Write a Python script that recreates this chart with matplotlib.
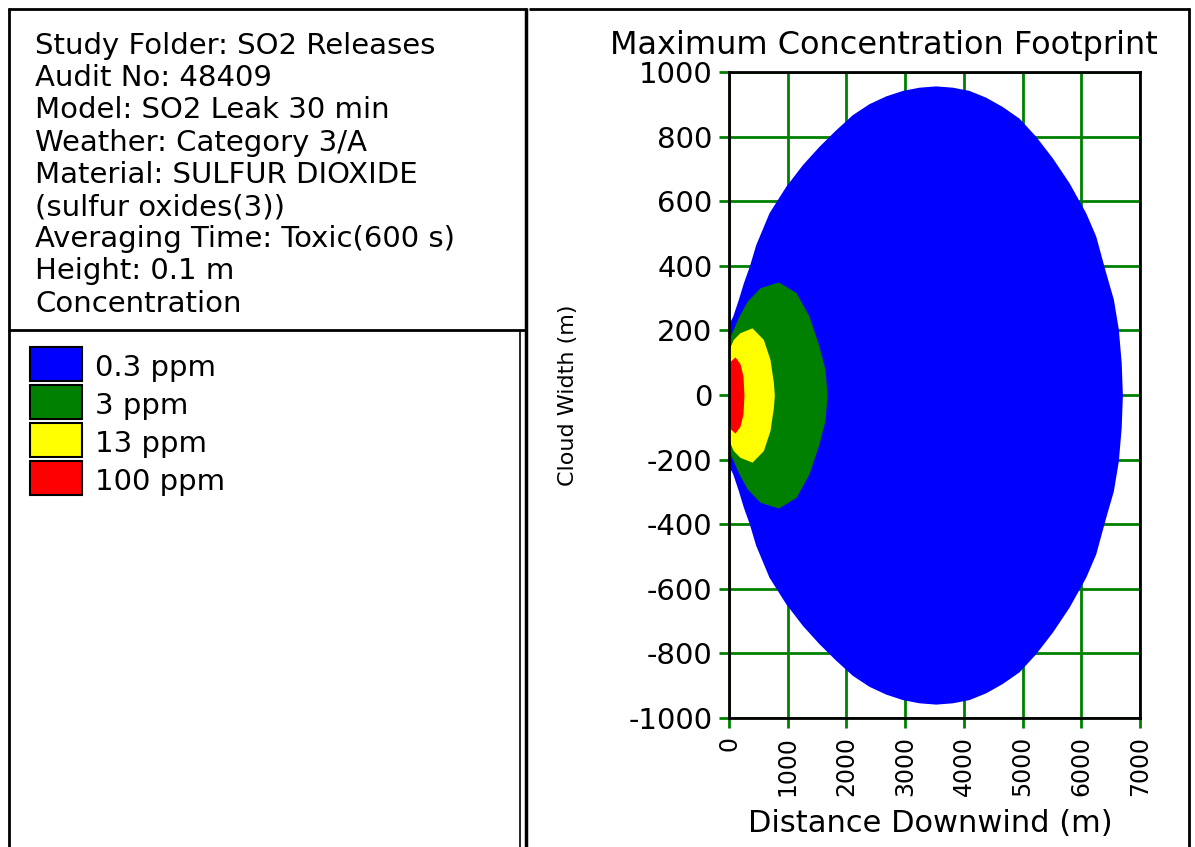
import matplotlib
matplotlib.use("Agg")
import matplotlib.pyplot as plt
from matplotlib.lines import Line2D
from matplotlib.patches import Rectangle
from matplotlib.transforms import Bbox, TransformedBbox

plt.rcParams["axes.unicode_minus"] = False

W, H = 1195, 847

# info box text
info_lines = [
    "Study Folder: SO2 Releases",
    "Audit No: 48409",
    "Model: SO2 Leak 30 min",
    "Weather: Category 3/A",
    "Material: SULFUR DIOXIDE",
    "(sulfur oxides(3))",
    "Averaging Time: Toxic(600 s)",
    "Height: 0.1 m",
    "Concentration",
]

# legend
levels = ["0.3 ppm", "3 ppm", "13 ppm", "100 ppm"]
level_colors = ["#0000ff", "#008000", "#ffff00", "#ff0000"]

# footprint half-widths (m) vs distance downwind (m)
blue_x = [0, 17, 63, 159, 244, 346, 454, 681, 966, 1249, 1533, 1817, 2101,
          2385, 2669, 2953, 3237, 3521, 3804, 4088, 4372, 4656, 4940, 5224,
          5508, 5792, 6076, 6246, 6417, 6546, 6631, 6680, 6700]
blue_w = [225, 228, 244, 296, 347, 399, 465, 564, 646, 713, 770, 821, 868,
          902, 926, 943, 953, 957, 953, 943, 922, 893, 857, 801,
          734, 657, 564, 492, 378, 297, 204, 100, 0]

green_x = [0, 46, 170, 312, 528, 840, 1141, 1363, 1533, 1635, 1670]
green_w = [174, 193, 244, 291, 332, 350, 317, 244, 151, 79, 0]

yellow_x = [0, 73, 187, 392, 585, 698, 755, 772]
yellow_w = [142, 172, 193, 208, 172, 110, 40, 0]

red_x = [0, 17, 102, 187, 238, 255]
red_w = [80, 104, 118, 97, 59, 0]

footprints = [(blue_x, blue_w), (green_x, green_w),
              (yellow_x, yellow_w), (red_x, red_w)]

x_ticks = [0, 1000, 2000, 3000, 4000, 5000, 6000, 7000]
y_ticks = [-1000, -800, -600, -400, -200, 0, 200, 400, 600, 800, 1000]

FS = 21


def fx(x):
    return x / W


def fy(y):
    return 1 - y / H


fig = plt.figure(figsize=(W / 100, H / 100), dpi=100)
fig.patch.set_facecolor("white")


def hline(x0, x1, y, lw=2):
    fig.add_artist(Line2D([fx(x0), fx(x1)], [fy(y), fy(y)], color="black",
                          lw=lw, transform=fig.transFigure, solid_capstyle="butt"))


def vline(x, y0, y1, lw=2):
    fig.add_artist(Line2D([fx(x), fx(x)], [fy(y0), fy(y1)], color="black",
                          lw=lw, transform=fig.transFigure, solid_capstyle="butt"))


# panel frames
hline(8, 527, 9)
vline(9, 8, H)
hline(8, 527, 330)
vline(520, 330, H, lw=1.2)
vline(526, 8, H, lw=2.5)
hline(529, 1190, 9)
vline(1189, 8, H)

# info text
for i, line in enumerate(info_lines):
    fig.text(fx(35), fy(54 + i * 32.2), line, fontsize=FS, va="baseline",
             ha="left")

# legend swatches
for i, (lab, col) in enumerate(zip(levels, level_colors)):
    top = 347 + i * 38
    fig.add_artist(Rectangle((fx(30), fy(top + 34)), 52 / W, 34 / H,
                             facecolor=col, edgecolor="black", lw=1.5,
                             transform=fig.transFigure))
    fig.text(fx(95), fy(top + 29), lab, fontsize=FS, va="baseline", ha="left")

# plot
ax = fig.add_axes([fx(729), fy(718), (1140 - 729) / W, (718 - 72) / H])
ax.set_axisbelow(True)
for (xs, ws), col in zip(footprints, level_colors):
    ax.fill_between(xs, [-w for w in ws], ws, color=col, lw=0, antialiased=False)

ax.set_xlim(0, 7000)
ax.set_ylim(-1000, 1000)
ax.set_xticks(x_ticks)
ax.set_yticks(y_ticks)
ax.set_xticklabels([str(t) for t in x_ticks], rotation=90)
ax.grid(True, color="#008000", lw=2)
ax.tick_params(axis="both", color="#008000", width=2, length=7,
               labelsize=FS, pad=5)
ax.tick_params(axis="x", labelsize=17, pad=6)
for sp in ax.spines.values():
    sp.set_linewidth(2)
    sp.set_color("black")

fig.text(fx(568), fy(395), "Cloud Width (m)", rotation=90, fontsize=16,
         ha="center", va="center")
fig.text(fx(930), fy(832), "Distance Downwind (m)", fontsize=FS + 1,
         ha="center", va="baseline")

title = fig.text(fx(610), fy(54), "Maximum Concentration Footprint",
                 fontsize=FS + 2, ha="left", va="baseline")
clip = TransformedBbox(Bbox([[fx(529), 0], [fx(1183), 1]]), fig.transFigure)
title.set_clip_box(clip)
title.set_clip_on(True)

fig.savefig("out.png", dpi=100)
